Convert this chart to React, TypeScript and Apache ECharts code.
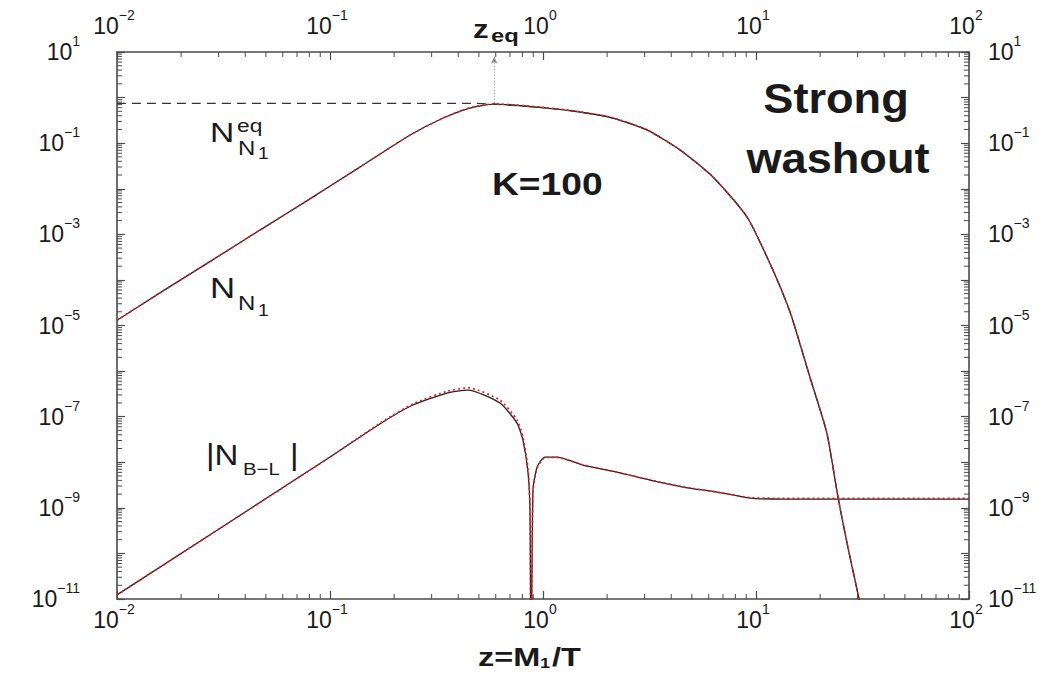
import React, { useEffect, useRef } from "react";
import * as echarts from "echarts";

const FONT = '"Liberation Sans", Arial, Helvetica, sans-serif';

// Heavy-neutrino abundance N_N1 versus z = M1/T (solid and dotted solutions)
const zN1 = [0.01, 0.0159, 0.0274, 0.0469, 0.0805, 0.138, 0.238, 0.34, 0.454, 0.589, 1.045, 1.49, 2.13, 3.08, 4.4, 6.28, 9.08, 12.0, 14.5, 17.9, 21.5, 24.3, 27.0, 29.8, 31.5];
const nN1Solid = [1.3e-5, 5.2e-5, 2.55e-4, 1.24e-3, 6.0e-3, 0.0298, 0.151, 0.356, 0.59, 0.72, 0.59, 0.483, 0.356, 0.195, 0.0708, 0.0181, 0.0024, 1.65e-4, 1.88e-5, 7.4e-7, 4.4e-8, 1.64e-9, 1.38e-10, 1.6e-11, 5e-12];
const nN1Dotted = [1.3e-5, 5.2e-5, 2.55e-4, 1.24e-3, 6.0e-3, 0.0298, 0.151, 0.356, 0.6, 0.73, 0.6, 0.49, 0.36, 0.197, 0.071, 0.0182, 0.0024, 1.66e-4, 1.9e-5, 7.5e-7, 4.5e-8, 1.66e-9, 1.4e-10, 1.62e-11, 5e-12];

// Equilibrium abundance N_N1^eq (dashed)
const zEqCurve = [0.01, 0.45, 0.589, 1.045, 1.49, 2.13, 3.08, 4.4, 6.28, 9.08, 12.0, 14.5, 17.9, 21.5, 24.3, 27.0, 29.8, 31.5];
const nEqCurve = [0.75, 0.75, 0.72, 0.59, 0.483, 0.356, 0.195, 0.0708, 0.0181, 0.0024, 1.65e-4, 1.88e-5, 7.4e-7, 4.4e-8, 1.64e-9, 1.38e-10, 1.6e-11, 5e-12];

// |N_B-L| versus z (solid and dotted solutions)
const zBL = [0.01, 0.1, 0.172, 0.245, 0.354, 0.445, 0.628, 0.755, 0.805, 0.851, 0.869, 0.879, 0.897, 0.938, 1.02, 1.16, 1.54, 2.22, 3.18, 4.54, 6.56, 9.38, 13.4, 100];
const nBLSolid = [1.23e-11, 1.3e-8, 7.0e-8, 1.8e-7, 3.3e-7, 3.84e-7, 1.99e-7, 7.2e-8, 3.07e-8, 5.8e-9, 7.7e-10, 1e-13, 2.46e-9, 7.8e-9, 1.3e-8, 1.3e-8, 8.7e-9, 6.1e-9, 4.07e-9, 2.86e-9, 2.22e-9, 1.64e-9, 1.56e-9, 1.56e-9];
const nBLDotted = [1.23e-11, 1.3e-8, 7.2e-8, 1.9e-7, 3.6e-7, 4.3e-7, 2.3e-7, 8.5e-8, 3.6e-8, 7.0e-9, 9.0e-10, 1e-13, 2.2e-9, 7.4e-9, 1.26e-8, 1.28e-8, 8.8e-9, 6.1e-9, 4.1e-9, 2.9e-9, 2.2e-9, 1.68e-9, 1.62e-9, 1.62e-9];

// z_eq marker
const zEq = 0.59;
const zEqArrowTop = 7.9;
const zEqPeak = 0.72;

// Axis ranges (decade exponents) and logarithmic minor tick multipliers
const xRange = [-2, 2];
const yRange = [-11, 1];
const minorMultipliers = [2, 3, 4, 5, 6, 7, 8, 9];

const lg = (v: number) => Math.log10(v);
const toPoints = (zs: number[], ns: number[]) => zs.map((z, i) => [lg(z), lg(ns[i])]);

const minorLogs = (lo: number, hi: number) => {
  const out: number[] = [];
  for (let e = lo; e < hi; e++) {
    for (const m of minorMultipliers) out.push(e + lg(m));
  }
  return out;
};

const expText = (e: number) => (e < 0 ? "\u2212" + -e : String(e));
const INK = "#1a1a1a";
const AXIS = "#4a4a4a";
const RED = "#ee1c1c";

const labelRich = {
  b: { fontFamily: FONT, fontSize: 23, color: INK, lineHeight: 26 },
  s: { fontFamily: FONT, fontSize: 14, color: INK, padding: [0, 0, 22, 0] },
};

const xLabel = (v: number) => `{b|10}{s|${expText(Math.round(v))}}`;
const yLabel = (v: number) => {
  const e = Math.round(v);
  return e % 2 !== 0 ? `{b|10}{s|${expText(e)}}` : "";
};

const baseX = (position: "bottom" | "top", margin: number) => ({
  type: "value",
  position,
  min: xRange[0],
  max: xRange[1],
  interval: 1,
  axisLine: { show: true, onZero: false, lineStyle: { color: AXIS, width: 1.6 } },
  axisTick: { show: true, inside: true, length: 8, lineStyle: { color: AXIS, width: 1.2 } },
  axisLabel: { formatter: xLabel, rich: labelRich, margin, showMinLabel: true, showMaxLabel: true, padding: [0, 6, 0, 0] },
  splitLine: { show: false },
});

const baseY = (position: "left" | "right", margin: number) => ({
  type: "value",
  position,
  min: yRange[0],
  max: yRange[1],
  interval: 1,
  axisLine: { show: true, onZero: false, lineStyle: { color: AXIS, width: 1.6 } },
  axisTick: { show: true, inside: true, length: 8, lineStyle: { color: AXIS, width: 1.2 } },
  axisLabel: { formatter: yLabel, rich: labelRich, margin, showMinLabel: true, showMaxLabel: true },
  splitLine: { show: false },
});

const txt = (
  text: string,
  x: number,
  y: number,
  fontSize: number,
  opts: { bold?: boolean; scaleX?: number; align?: string } = {}
) => ({
  type: "text",
  x,
  y,
  scaleX: opts.scaleX ?? 1.2,
  silent: true,
  style: {
    text,
    fill: INK,
    fontFamily: FONT,
    fontSize,
    fontWeight: opts.bold ? "bold" : "normal",
    align: opts.align ?? "left",
    verticalAlign: "middle",
  },
});

const curve = (data: number[][], color: string, width: number, type: any, z: number, extra: any = {}) => ({
  type: "line",
  data,
  showSymbol: false,
  symbol: "none",
  smooth: 0.2,
  lineStyle: { color, width, type },
  emphasis: { disabled: true },
  z,
  ...extra,
});

export default function App() {
  const ref = useRef<HTMLDivElement>(null);

  useEffect(() => {
    if (!ref.current) return;
    const chart = echarts.init(ref.current, undefined, { renderer: "svg" });

    const xMinor = minorLogs(xRange[0], xRange[1]);
    const yMinor = minorLogs(yRange[0], yRange[1]);
    const tickStyle = { stroke: AXIS, lineWidth: 1 };

    chart.setOption({
      animation: false,
      backgroundColor: "#ffffff",
      grid: { left: 117, right: 83, top: 52, bottom: 74, containLabel: false },
      xAxis: [baseX("bottom", 3), baseX("top", 8)],
      yAxis: [baseY("left", 37), baseY("right", 19)],
      series: [
        {
          type: "custom",
          silent: true,
          renderItem: (_p: any, api: any) => {
            const x = api.value(0);
            const b = api.coord([x, yRange[0]]);
            const t = api.coord([x, yRange[1]]);
            return {
              type: "group",
              children: [
                { type: "line", shape: { x1: b[0], y1: b[1], x2: b[0], y2: b[1] - 5 }, style: tickStyle },
                { type: "line", shape: { x1: t[0], y1: t[1], x2: t[0], y2: t[1] + 5 }, style: tickStyle },
              ],
            };
          },
          data: xMinor.map((v) => [v, yRange[0]]),
          z: 1,
        },
        {
          type: "custom",
          silent: true,
          renderItem: (_p: any, api: any) => {
            const y = api.value(1);
            const l = api.coord([xRange[0], y]);
            const r = api.coord([xRange[1], y]);
            return {
              type: "group",
              children: [
                { type: "line", shape: { x1: l[0], y1: l[1], x2: l[0] + 5, y2: l[1] }, style: tickStyle },
                { type: "line", shape: { x1: r[0], y1: r[1], x2: r[0] - 5, y2: r[1] }, style: tickStyle },
              ],
            };
          },
          data: yMinor.map((v) => [xRange[0], v]),
          z: 1,
        },
        curve(toPoints(zN1, nN1Solid), "#222", 1.3, "solid", 3),
        curve(toPoints(zEqCurve, nEqCurve), "#333", 1.2, [9, 6], 3, {
          markLine: {
            silent: true,
            symbol: ["arrow", "none"],
            symbolSize: [5, 7],
            label: { show: false },
            lineStyle: { color: "#888", width: 1, type: [1, 2] },
            itemStyle: { color: "#222" },
            data: [[{ coord: [lg(zEq), lg(zEqArrowTop)] }, { coord: [lg(zEq), lg(zEqPeak)] }]],
          },
        }),
        curve(toPoints(zN1, nN1Dotted), RED, 1.6, [2, 3], 4),
        curve(toPoints(zBL, nBLSolid), "#222", 1.3, "solid", 3),
        curve(toPoints(zBL, nBLDotted), RED, 1.7, [2, 3], 4),
      ],
      graphic: [
        txt("Strong", 836, 98, 43, { bold: true, scaleX: 1.05, align: "center" }),
        txt("washout", 838, 158, 43, { bold: true, scaleX: 1.05, align: "center" }),
        txt("K=100", 492, 184, 31, { bold: true, scaleX: 1.2 }),
        txt("z", 473, 29, 25, { bold: true, scaleX: 1.25 }),
        txt("eq", 491, 36, 19, { bold: true, scaleX: 1.25 }),
        // N_N1^eq
        txt("N", 210, 132, 28),
        txt("eq", 237, 125, 19),
        txt("N", 238, 148, 20),
        txt("1", 258, 154, 16),
        // N_N1
        txt("N", 210, 288, 29),
        txt("N", 238, 303, 20),
        txt("1", 258, 311, 16),
        // |N_B-L|
        txt("|N", 206, 455, 30, { scaleX: 1.1 }),
        txt("B\u2212L", 243, 469, 17),
        txt("|", 290, 455, 30, { scaleX: 1.1 }),
        // axis title z = M1/T
        txt("z=M", 478, 657, 25, { bold: true, scaleX: 1.3 }),
        txt("1", 540, 663, 14, { bold: true, scaleX: 1.3 }),
        txt("/T", 552, 657, 25, { bold: true, scaleX: 1.3 }),
      ],
    });

    return () => chart.dispose();
  }, []);

  return (
    <div
      ref={ref}
      style={{ position: "fixed", left: 0, top: 0, width: 1052, height: 673, background: "#fff" }}
    />
  );
}
